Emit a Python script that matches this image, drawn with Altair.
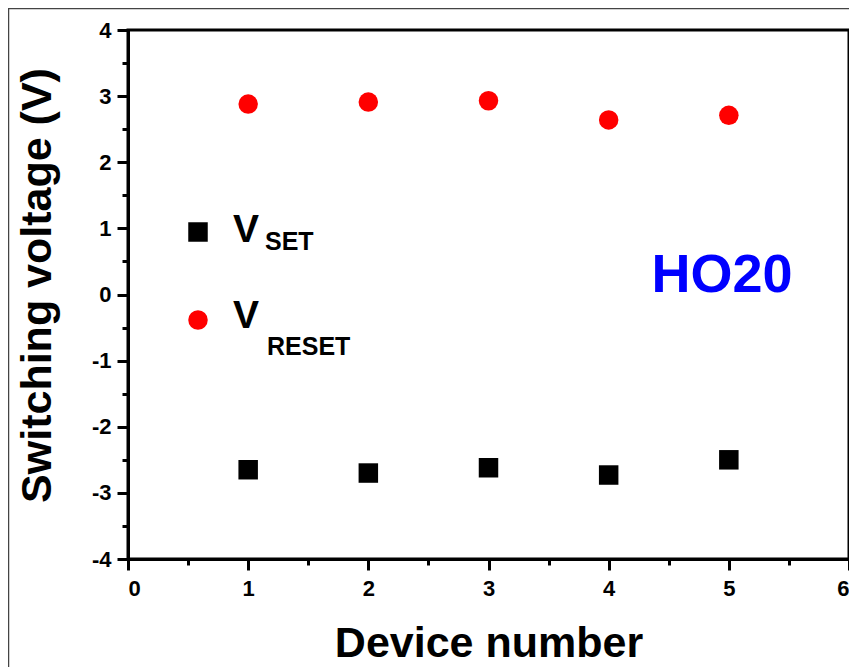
import altair as alt
import pandas as pd

devices = [1, 2, 3, 4, 5]
v_set = [-2.65, -2.70, -2.62, -2.73, -2.50]
v_reset = [2.88, 2.91, 2.93, 2.64, 2.71]
series_names = ["V_SET", "V_RESET"]
series_colors = ["#000000", "#FF0000"]
series_shapes = ["square", "circle"]
x_ticks = [i * 0.5 for i in range(13)]
y_ticks = [-4 + i * 0.5 for i in range(17)]

rows = []
for d, s, r in zip(devices, v_set, v_reset):
    rows.append({"device": d, "voltage": s, "series": "V_SET"})
    rows.append({"device": d, "voltage": r, "series": "V_RESET"})
df = pd.DataFrame(rows)

FONT = "Liberation Sans"
W, H = 721, 529
PAD = {"left": 120, "top": 22, "right": 0, "bottom": 110}

minor_size = {"condition": {"test": "datum.value % 1 !== 0", "value": 6}, "value": 11}
int_labels = "datum.value % 1 === 0 ? toString(datum.value) : ''"

points = alt.Chart(df).mark_point(filled=True, size=380, opacity=1, strokeWidth=0).encode(
    x=alt.X("device:Q", scale=alt.Scale(domain=[0, 6], nice=False),
            axis=alt.Axis(values=x_ticks, title="Device number",
                          labelExpr=int_labels,
                          tickSize=minor_size, labelPadding=8,
                          titleY=97, titleBaseline="alphabetic")),
    y=alt.Y("voltage:Q", scale=alt.Scale(domain=[-4, 4], nice=False),
            axis=alt.Axis(values=y_ticks, title="Switching voltage (V)",
                          labelExpr=int_labels,
                          tickSize=minor_size, labelPadding=6,
                          titleX=-78, titleY=255, titleAngle=-90,
                          titleBaseline="alphabetic", titleAlign="center")),
    color=alt.Color("series:N", scale=alt.Scale(domain=series_names, range=series_colors),
                    legend=alt.Legend(orient="none", legendX=60, legendY=192, title=None,
                                      labelExpr="''", labelFontSize=1, symbolSize=380,
                                      symbolStrokeWidth=0, rowPadding=68, padding=0)),
    shape=alt.Shape("series:N", scale=alt.Scale(domain=series_names, range=series_shapes)),
)

def label(text, x, y, size, color="#000000"):
    return alt.Chart(pd.DataFrame({"t": [text]})).mark_text(
        font=FONT, fontWeight="bold", fontSize=size, color=color,
        align="left", baseline="alphabetic", clip=False
    ).encode(text="t:N", x=alt.value(x), y=alt.value(y))

texts = [
    label("V", 105, 212, 39),
    label("SET", 137, 220, 25),
    label("V", 105, 298, 39),
    label("RESET", 139, 325, 25),
]
ho20 = alt.Chart(pd.DataFrame({"t": ["HO20"]})).mark_text(
    font=FONT, fontWeight="bold", fontSize=54, color="#0000FF",
    align="center", baseline="alphabetic"
).encode(text="t:N", x=alt.value(594), y=alt.value(262))

border = alt.Chart(pd.DataFrame({"a": [0]})).mark_rect(
    filled=False, stroke="#444444", strokeWidth=1.5, clip=False
).encode(x=alt.value(-119.5), x2=alt.value(W + 10), y=alt.value(-21.5), y2=alt.value(H + 130))

chart = alt.layer(border, points, *texts, ho20).properties(
    width=W, height=H,
    padding=PAD,
    autosize="none",
    background="white",
).configure_view(stroke="#000000", strokeWidth=3).configure_axis(
    grid=False, domainColor="#000000", domainWidth=3, tickColor="#000000", tickWidth=3,
    labelFont=FONT, labelFontWeight="bold", labelFontSize=22, labelColor="#000000",
    titleFont=FONT, titleFontWeight="bold", titleFontSize=43, titleColor="#000000",
)

chart.save("out.html", embed_options={"renderer": "svg", "actions": False})
